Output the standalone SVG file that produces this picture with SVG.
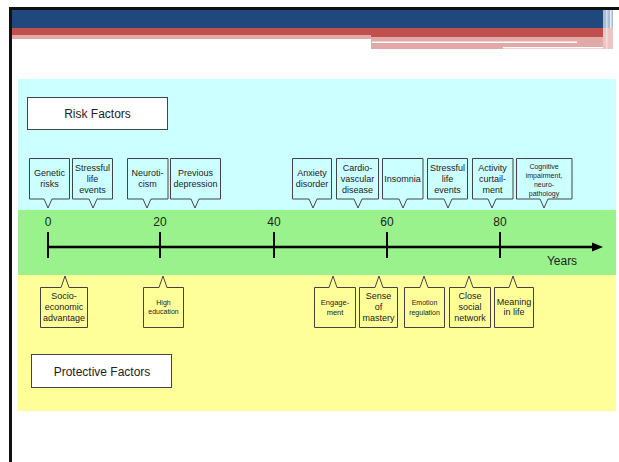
<svg xmlns="http://www.w3.org/2000/svg" width="619" height="462" viewBox="0 0 619 462">
<style>
  text { font-family: "Liberation Sans", Arial, sans-serif; fill: #222; text-anchor: middle; }
  .lbl { font-size: 9px; }
  .sm { font-size: 7.5px; }
  .xs { font-size: 7px; }
  .title { font-size: 12px; }
  .ax { font-size: 12px; }
  .risk { fill: #ccffff; stroke: #444; stroke-width: 1; }
  .prot { fill: #ffff99; stroke: #444; stroke-width: 1; }
  .tbox { fill: #ffffff; stroke: #444; stroke-width: 1; }
</style>
<rect x="0" y="0" width="619" height="462" fill="#ffffff"/>
<!-- header -->
<g id="header">
  <rect x="12" y="10" width="591" height="18" fill="#1f497d"/>
  <rect x="12" y="28" width="591" height="7" fill="#c0504d"/>
  <rect x="371" y="35" width="232" height="2" fill="#c0504d"/>
  <rect x="12" y="35" width="359" height="4" fill="#e3a9a8"/>
  <rect x="371" y="37" width="232" height="12" fill="#e3a9a8"/>
  <rect x="372" y="41.5" width="205" height="1.5" fill="#ffffff"/>
  <rect x="503" y="47" width="107" height="1.5" fill="#ffffff"/>
  <rect x="603" y="10" width="10" height="18" fill="#a9bcd3"/>
  <rect x="606" y="10" width="1.5" height="18" fill="#d6e0ec"/>
  <rect x="610" y="10" width="1.5" height="18" fill="#e6ecf4"/>
  <rect x="603" y="28" width="10" height="21" fill="#ebc4c3"/>
  <rect x="606" y="28" width="1.5" height="21" fill="#f4dddd"/>
  <rect x="9" y="7" width="610" height="3" fill="#111"/>
  <rect x="9" y="7" width="3" height="455" fill="#111"/>
</g>
<!-- bands -->
<g id="bands">
  <rect x="18" y="79" width="598" height="131" fill="#ccffff"/>
  <rect x="18" y="210" width="598" height="65" fill="#99f28c"/>
  <rect x="18" y="275" width="598" height="136" fill="#ffff99"/>
</g>
<g id="risk-title">
  <rect class="tbox" x="27.5" y="97.5" width="140" height="32"/>
  <text class="title" x="97.5" y="117.5">Risk Factors</text>
</g>
<g id="protective-title">
  <rect class="tbox" x="31.5" y="354.5" width="140" height="33"/>
  <text class="title" x="102" y="376">Protective Factors</text>
</g>
<!-- axis -->
<g id="connectors">
  <line x1="47" y1="247" x2="594" y2="247" stroke="#000" stroke-width="2.5"/>
  <polygon points="592,242.5 603,247 592,251.5" fill="#000"/>
  <g stroke="#000" stroke-width="2">
    <line x1="48" y1="232" x2="48" y2="258"/>
    <line x1="160" y1="232" x2="160" y2="258"/>
    <line x1="274" y1="232" x2="274" y2="258"/>
    <line x1="387" y1="232" x2="387" y2="258"/>
    <line x1="500" y1="232" x2="500" y2="258"/>
  </g>
  <text class="ax" x="48" y="226">0</text>
  <text class="ax" x="160" y="226">20</text>
  <text class="ax" x="274" y="226">40</text>
  <text class="ax" x="387" y="226">60</text>
  <text class="ax" x="500" y="226">80</text>
  <text class="ax" x="562" y="265">Years</text>
</g>
<!-- risk factors -->
<g id="r-genetic">
  <path class="risk" d="M29.5 158.5 H69.5 V199 H52 L48 208 L44 199 H29.5 Z"/>
  <text class="lbl" x="49.5" y="176">Genetic</text>
  <text class="lbl" x="49.5" y="187">risks</text>
</g>
<g id="r-stress1">
  <path class="risk" d="M72.5 158.5 H112.5 V199 H97 L93 208 L89 199 H72.5 Z"/>
  <text class="lbl" x="92.5" y="171">Stressful</text>
  <text class="lbl" x="92.5" y="182">life</text>
  <text class="lbl" x="92.5" y="193">events</text>
</g>
<g id="r-neuro">
  <path class="risk" d="M127.5 158.5 H168 V199 H151 L147 208 L143 199 H127.5 Z"/>
  <text class="lbl" x="147.5" y="176">Neuroti-</text>
  <text class="lbl" x="147.5" y="187">cism</text>
</g>
<g id="r-depression">
  <path class="risk" d="M170.5 158.5 H220.5 V199 H199 L195 208 L191 199 H170.5 Z"/>
  <text class="lbl" x="195.5" y="176">Previous</text>
  <text class="lbl" x="195.5" y="187">depression</text>
</g>
<g id="r-anxiety">
  <path class="risk" d="M292.5 158.5 H331.5 V199 H317 L313 208 L309 199 H292.5 Z"/>
  <text class="lbl" x="312" y="176">Anxiety</text>
  <text class="lbl" x="312" y="187">disorder</text>
</g>
<g id="r-cardio">
  <path class="risk" d="M336.5 158.5 H378.5 V199 H362 L358 208 L354 199 H336.5 Z"/>
  <text class="lbl" x="357.5" y="171">Cardio-</text>
  <text class="lbl" x="357.5" y="182">vascular</text>
  <text class="lbl" x="357.5" y="193">disease</text>
</g>
<g id="r-insomnia">
  <path class="risk" d="M382.5 158.5 H423 V199 H407 L403 208 L399 199 H382.5 Z"/>
  <text class="lbl" x="402.5" y="181.5">Insomnia</text>
</g>
<g id="r-stress2">
  <path class="risk" d="M427.5 158.5 H467.5 V199 H452 L448 208 L444 199 H427.5 Z"/>
  <text class="lbl" x="447.5" y="171">Stressful</text>
  <text class="lbl" x="447.5" y="182">life</text>
  <text class="lbl" x="447.5" y="193">events</text>
</g>
<g id="r-activity">
  <path class="risk" d="M472.5 158.5 H513 V199 H496 L492 208 L488 199 H472.5 Z"/>
  <text class="lbl" x="492.5" y="171">Activity</text>
  <text class="lbl" x="492.5" y="182">curtail-</text>
  <text class="lbl" x="492.5" y="193">ment</text>
</g>
<g id="r-cognitive">
  <path class="risk" d="M516.5 158.5 H572 V199 H548 L544 208 L540 199 H516.5 Z"/>
  <text class="xs" x="544" y="168.5">Cognitive</text>
  <text class="xs" x="544" y="177.5">impairment,</text>
  <text class="xs" x="544" y="186.5">neuro-</text>
  <text class="xs" x="544" y="195.5">pathology</text>
</g>
<!-- protective factors -->
<g id="p-socio">
  <path class="prot" d="M40.5 287.5 H61 L65 276 L69 287.5 H87.5 V327.5 H40.5 Z"/>
  <text class="lbl" x="64" y="299">Socio-</text>
  <text class="lbl" x="64" y="310">economic</text>
  <text class="lbl" x="64" y="321">advantage</text>
</g>
<g id="p-education">
  <path class="prot" d="M143.5 287.5 H159 L163 276 L167 287.5 H183.5 V327.5 H143.5 Z"/>
  <text class="xs" x="163.5" y="305">High</text>
  <text class="xs" x="163.5" y="314">education</text>
</g>
<g id="p-engagement">
  <path class="prot" d="M314.5 287.5 H329 L333 276 L337 287.5 H355.5 V327.5 H314.5 Z"/>
  <text class="sm" x="335" y="305">Engage-</text>
  <text class="sm" x="335" y="315">ment</text>
</g>
<g id="p-mastery">
  <path class="prot" d="M359.5 287.5 H375 L379 276 L383 287.5 H397.5 V327.5 H359.5 Z"/>
  <text class="lbl" x="378.5" y="299">Sense</text>
  <text class="lbl" x="378.5" y="310">of</text>
  <text class="lbl" x="378.5" y="321">mastery</text>
</g>
<g id="p-emotion">
  <path class="prot" d="M404.5 287.5 H420 L424 276 L428 287.5 H444.5 V327.5 H404.5 Z"/>
  <text class="xs" x="424.5" y="305">Emotion</text>
  <text class="xs" x="424.5" y="315">regulation</text>
</g>
<g id="p-social">
  <path class="prot" d="M449.5 287.5 H465 L469 276 L473 287.5 H490.5 V327.5 H449.5 Z"/>
  <text class="lbl" x="470" y="299">Close</text>
  <text class="lbl" x="470" y="310">social</text>
  <text class="lbl" x="470" y="321">network</text>
</g>
<g id="p-meaning">
  <path class="prot" d="M494.5 287.5 H509 L513 276 L517 287.5 H533.5 V327.5 H494.5 Z"/>
  <text class="lbl" x="514" y="305">Meaning</text>
  <text class="lbl" x="514" y="315">in life</text>
</g>
</svg>
